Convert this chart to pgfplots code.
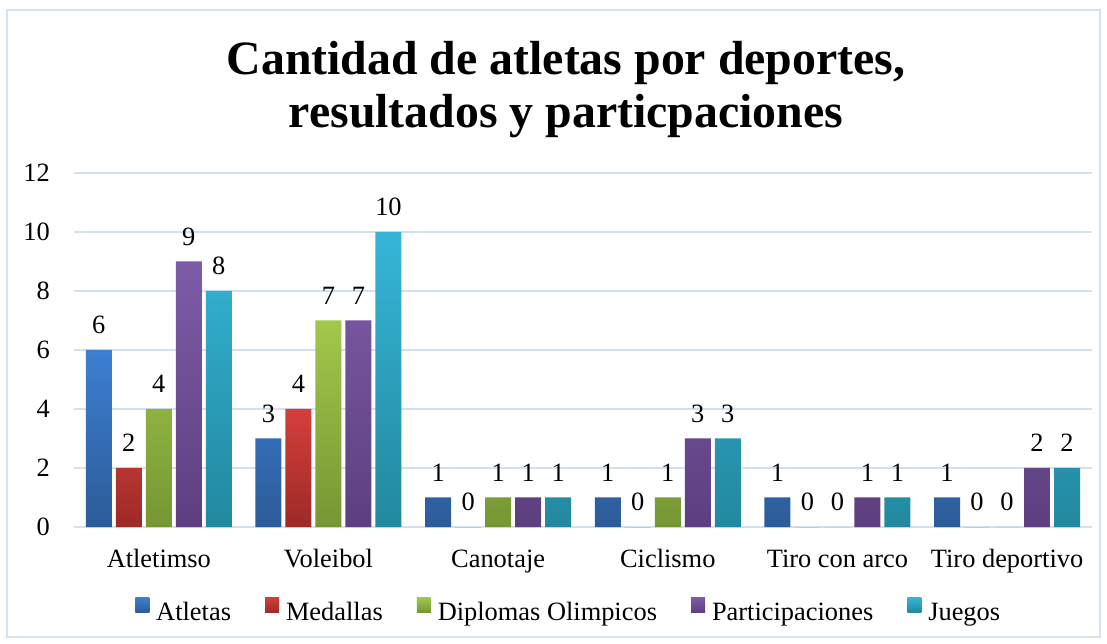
\documentclass[border=0pt]{standalone}
\usepackage{pgfplots}
\pgfplotsset{compat=1.18}
\usepackage{fontspec}
\setmainfont{Liberation Serif}
\definecolor{bordercol}{HTML}{D5E2F2}
\definecolor{gridcol}{HTML}{D3E0F0}
\definecolor{blueT}{HTML}{3D7FD2}
\definecolor{blueB}{HTML}{2C5B98}
\definecolor{redT}{HTML}{D43F3B}
\definecolor{redB}{HTML}{9C2A27}
\definecolor{greenT}{HTML}{A2C84B}
\definecolor{greenB}{HTML}{759633}
\definecolor{purpleT}{HTML}{7E5BA8}
\definecolor{purpleB}{HTML}{5D3F7F}
\definecolor{cyanT}{HTML}{36B5D8}
\definecolor{cyanB}{HTML}{22889F}
\pgfplotstableread{
x Atletas Medallas Diplomas Participaciones Juegos
0 6 2 4 9 8
1 3 4 7 7 10
2 1 0 1 1 1
3 1 0 1 3 3
4 1 0 0 1 1
5 1 0 0 2 2
}\datatable
\begin{document}
\begin{tikzpicture}
\fill[white] (0bp,0bp) rectangle (1107bp,644bp);
\draw[bordercol, line width=1.3bp] (7bp,7bp) rectangle (1100bp,634bp);
\node[font=\fontsize{48}{53}\selectfont\bfseries, anchor=base, inner sep=0pt] at (566bp,569bp) {Cantidad de atletas por deportes,};
\node[font=\fontsize{48}{53}\selectfont\bfseries, anchor=base, inner sep=0pt] at (566bp,516bp) {resultados y particpaciones};
\begin{axis}[
  at={(74bp,117bp)}, anchor=south west,
  scale only axis, width=1018bp, height=354bp,
  ybar=4bp, bar width=26bp,
  xmin=-0.5, xmax=5.5, ymin=0, ymax=12,
  ytick={0,2,4,6,8,10,12},
  xtick=data,
  xticklabels={Atletimso, Voleibol, Canotaje, Ciclismo, Tiro con arco, Tiro deportivo},
  major tick length=0pt,
  axis line style={draw=none},
  ymajorgrids, grid style={gridcol, line width=1.5bp},
  tick label style={font=\fontsize{26.5}{30}\selectfont},
  /pgf/number format/assume math mode=true,
  yticklabel style={anchor=east, inner sep=0pt, xshift=-24bp},
  xticklabel style={anchor=base, inner sep=0pt, yshift=-40bp},
  nodes near coords,
  every node near coord/.append style={font=\fontsize{26.5}{30}\selectfont, anchor=south, inner sep=0pt, yshift=16bp, black},
  legend style={at={(0.486,-0.237)}, anchor=center, draw=none, fill=none,
    font=\fontsize{26.5}{30}\selectfont, legend columns=5,
    /tikz/every odd column/.append style={column sep=5bp},
    /tikz/every even column/.append style={column sep=32bp},
    legend cell align=left, inner sep=0pt},
  legend image code/.code={\path[#1] (0bp,0bp) rectangle (14bp,15bp);},
  clip=false,
]
\addplot[draw=none, top color=blueT, bottom color=blueB] table[x=x, y=Atletas] {\datatable};
\addplot[draw=none, top color=redT, bottom color=redB] table[x=x, y=Medallas] {\datatable};
\addplot[draw=none, top color=greenT, bottom color=greenB] table[x=x, y=Diplomas] {\datatable};
\addplot[draw=none, top color=purpleT, bottom color=purpleB] table[x=x, y=Participaciones] {\datatable};
\addplot[draw=none, top color=cyanT, bottom color=cyanB] table[x=x, y=Juegos] {\datatable};
\legend{Atletas, Medallas, Diplomas Olimpicos, Participaciones, Juegos}
\end{axis}
\end{tikzpicture}
\end{document}
